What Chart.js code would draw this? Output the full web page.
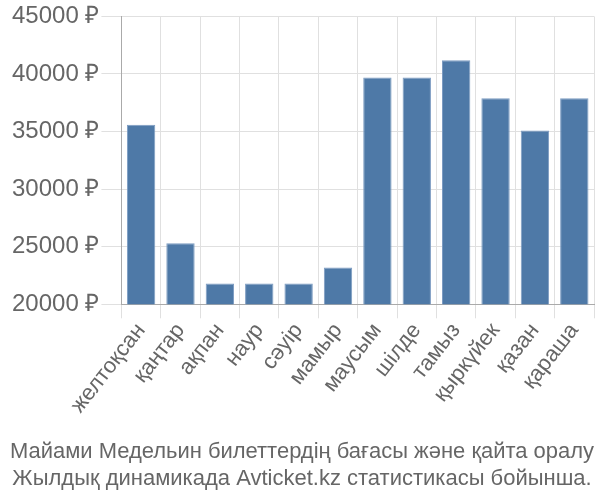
<!DOCTYPE html>
<html>
<head>
<meta charset="utf-8">
<script src="https://cdn.jsdelivr.net/npm/chart.js@4/dist/chart.umd.min.js"></script>
<style>
  html, body { margin: 0; padding: 0; background: #fff; }
  #wrap { width: 600px; height: 500px; }
</style>
</head>
<body>
<div id="wrap"><canvas id="chart"></canvas></div>
<script>
const months = ['желтоқсан', 'қаңтар', 'ақпан', 'наур', 'сәуір', 'мамыр', 'маусым', 'шілде', 'тамыз', 'қыркүйек', 'қазан', 'қараша'];
const prices = [35600, 25300, 21800, 21800, 21800, 23200, 39700, 39700, 41200, 37900, 35100, 37900];
const titleLines = ['Майами Медельин билеттердің бағасы және қайта оралу', 'Жылдық динамикада Avticket.kz статистикасы бойынша.'];

Chart.defaults.font.family = '"Liberation Sans", Arial, sans-serif';
Chart.defaults.color = '#666';

new Chart(document.getElementById('chart'), {
  type: 'bar',
  data: {
    labels: months,
    datasets: [{
      data: prices,
      backgroundColor: '#4e79a7',
      borderColor: '#7d9cc2',
      borderWidth: 1
    }]
  },
  options: {
    responsive: true,
    maintainAspectRatio: false,
    animation: false,
    layout: { padding: { left: 10, right: 6, top: 4, bottom: 0 } },
    plugins: {
      legend: { display: false },
      tooltip: { enabled: false },
      title: {
        display: true,
        position: 'bottom',
        text: titleLines,
        color: '#666',
        font: { size: 22, weight: 'normal', lineHeight: 1.2 },
        padding: { top: 21, bottom: 8 }
      }
    },
    scales: {
      x: {
        grid: { color: '#e0e0e0', offset: true, tickLength: 14 },
        border: { color: '#aaa' },
        ticks: { font: { size: 22 }, color: '#666', maxRotation: 52, minRotation: 52, padding: 0 }
      },
      y: {
        min: 20000,
        max: 45000,
        grid: { color: '#e0e0e0', tickLength: 20 },
        border: { color: '#aaa' },
        ticks: {
          stepSize: 5000,
          font: { size: 24 },
          color: '#666',
          padding: 2,
          callback: v => v + ' ₽'
        }
      }
    }
  }
});
</script>
</body>
</html>
